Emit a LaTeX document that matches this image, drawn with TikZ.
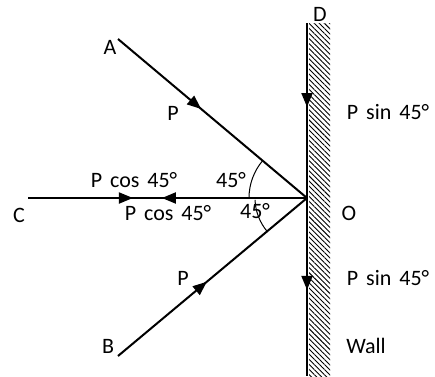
\documentclass[tikz,border=0pt]{standalone}
\usepackage{fontspec}
\setmainfont{Carlito}[WordSpace=1.6]
\usetikzlibrary{arrows.meta,decorations.markings,patterns.meta,calc}

\begin{document}
\begin{tikzpicture}[
    x=1pt, y=1pt,
    every node/.style={font=\fontsize{22}{26}\selectfont, inner sep=0pt},
    member/.style={line width=2pt},
    tipat/.style={postaction={decorate, decoration={markings,
        mark=at position #1 with {\arrow{Triangle[length=14pt,width=11pt]}}}}},
    backtipat/.style={postaction={decorate, decoration={markings,
        mark=at position #1 with {\arrowreversed{Triangle[length=14pt,width=11pt]}}}}},
    anglearc/.style={line width=1pt},
    hatch/.style={pattern={Lines[angle=-45,distance=3.6pt,line width=0.9pt]}},
]
    \useasboundingbox (0,0) rectangle (435,376);

    % points of the force diagram
    \coordinate (O) at (307,178);
    \coordinate (A) at (118,337);
    \coordinate (B) at (118,20);
    \coordinate (C) at (28,178);
    \coordinate (D) at (307,353);
    \coordinate (W) at (307,0);

    % wall hatching
    \fill[hatch] (309,0) rectangle (330,353);

    % forces
    \draw[member, tipat=0.44] (A) -- (O);
    \draw[member, tipat=0.47] (B) -- (O);
    \draw[member, tipat=0.376, backtipat=0.48] (C) -- (O);
    \draw[member, tipat=0.238, tipat=0.756] (D) -- (W);

    % angles
    \draw[anglearc] ($(O)+(180:58)$) arc[start angle=180, end angle=140, radius=58];
    \draw[anglearc] ($(O)+(182:52)$) arc[start angle=182, end angle=220, radius=52];

    % labels
    \node (lA) at (110,329) {A};
    \node (lB) at (108,30) {B};
    \node (lC) at (19,161) {C};
    \node (lD) at (320,362) {D};
    \node (lO) at (349,163) {O};
    \node (pA) at (173,263) {P};
    \node (pB) at (183,98) {P};
    \node (cosup) at (134,196) {P cos 45°};
    \node (cosdn) at (168,163) {P cos 45°};
    \node (angup) at (231,196) {45°};
    \node (angdn) at (255,165) {45°};
    \node (sinup) at (388,264) {P sin 45°};
    \node (sindn) at (388,98) {P sin 45°};
    \node (wall) at (366,30) {Wall};
\end{tikzpicture}
\end{document}
